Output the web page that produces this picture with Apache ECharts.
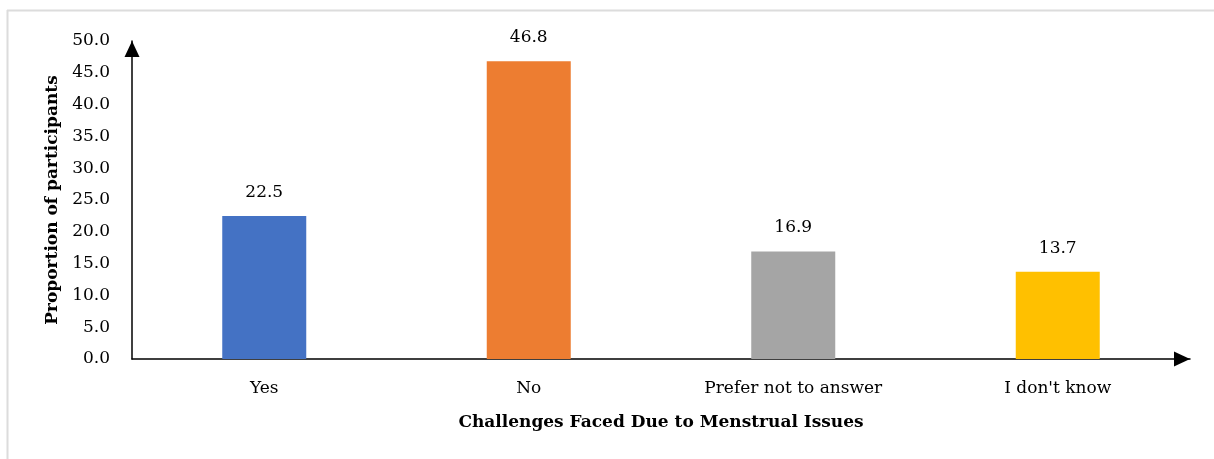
<!DOCTYPE html>
<html>
<head>
<meta charset="utf-8">
<script src="https://cdn.jsdelivr.net/npm/echarts@6/dist/echarts.min.js"></script>
<style>
  html, body { margin: 0; padding: 0; background: #fff; }
  #chart { width: 1214px; height: 459px; }
</style>
</head>
<body>
<div id="chart"></div>
<script>
// Survey answers and the share of participants for each
const categories = ['Yes', 'No', 'Prefer not to answer', "I don't know"];
const shares = [22.5, 46.8, 16.9, 13.7];
const barColors = ['#4472C4', '#ED7D31', '#A5A5A5', '#FFC000'];
const yTicks = { min: 0, max: 50, interval: 5 };

const FONT = '"DejaVu Serif", "Liberation Serif", serif';

const chart = echarts.init(document.getElementById('chart'), null, { renderer: 'canvas' });

chart.setOption({
  backgroundColor: '#ffffff',
  animation: false,
  textStyle: { fontFamily: FONT, color: '#000' },
  grid: { left: 132, right: 24, top: 41, bottom: 100, containLabel: false },
  graphic: [
    // thin grey page frame
    { type: 'line', shape: { x1: 7, y1: 10.5, x2: 1214, y2: 10.5 }, style: { stroke: '#dcdcdc', lineWidth: 2 } },
    { type: 'line', shape: { x1: 7.5, y1: 10, x2: 7.5, y2: 459 }, style: { stroke: '#dcdcdc', lineWidth: 2 } }
  ],
  xAxis: {
    type: 'category',
    data: categories,
    name: 'Challenges Faced Due to Menstrual Issues',
    nameLocation: 'middle',
    nameGap: 55,
    nameTextStyle: { fontFamily: FONT, fontSize: 17, fontWeight: 'bold', color: '#000' },
    axisLine: {
      show: true,
      lineStyle: { color: '#000', width: 1.5 },
      symbol: ['none', 'triangle'],
      symbolSize: [15, 16],
      symbolOffset: [0, -8]
    },
    axisTick: { show: false },
    axisLabel: { fontFamily: FONT, fontSize: 17, color: '#000', margin: 21 },
    splitLine: { show: false }
  },
  yAxis: {
    type: 'value',
    min: yTicks.min,
    max: yTicks.max,
    interval: yTicks.interval,
    name: 'Proportion of participants',
    nameLocation: 'middle',
    nameGap: 66,
    nameRotate: 90,
    nameTextStyle: { fontFamily: FONT, fontSize: 17, fontWeight: 'bold', color: '#000' },
    axisLine: {
      show: true,
      lineStyle: { color: '#000', width: 1.5 },
      symbol: ['none', 'triangle'],
      symbolSize: [15, 16],
      symbolOffset: [0, -8]
    },
    axisTick: { show: false },
    axisLabel: {
      fontFamily: FONT, fontSize: 17, color: '#000', margin: 22,
      formatter: v => v.toFixed(1)
    },
    splitLine: { show: false }
  },
  series: [{
    type: 'bar',
    data: shares.map((v, i) => ({ value: v, itemStyle: { color: barColors[i] } })),
    barWidth: 84,
    label: {
      show: true,
      position: 'top',
      distance: 15,
      fontFamily: FONT,
      fontSize: 17,
      color: '#000',
      formatter: p => p.value.toFixed(1)
    }
  }]
});
</script>
</body>
</html>
